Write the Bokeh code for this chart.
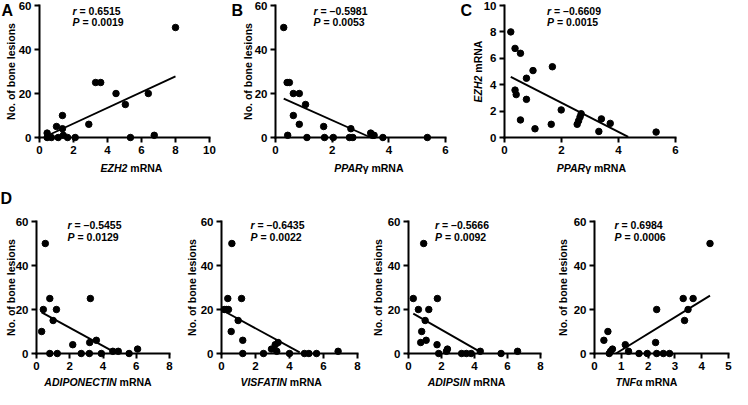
import math
from bokeh.plotting import figure
from bokeh.layouts import column, row
from bokeh.models import Range1d, FixedTicker, Label
from bokeh.embed import file_html
from bokeh.resources import INLINE

# ---------------- data ----------------
a_x = [0.45, 0.45, 0.7, 1.0, 1.1, 1.35, 1.35, 1.4, 1.65, 2.1, 2.9, 3.3, 3.6, 4.5, 5.05, 5.35, 6.4, 6.75, 8.0]
a_y = [2, 0, 0, 5, 0, 10, 4, 1, 0, 0, 6, 25, 25, 20, 15, 0, 20, 1, 50]
a_fit_x = [0.45, 8.0]
a_fit_y = [0.8, 27.8]

b_x = [0.29, 0.41, 0.49, 0.63, 0.84, 1.06, 0.63, 0.84, 0.43, 1.11, 1.7, 1.73, 2.04, 2.66, 2.61, 2.73, 3.36, 3.42, 3.48, 3.79, 5.36]
b_y = [50, 25, 25, 20, 20, 15, 10, 6, 1, 0, 5, 0, 0, 4, 0, 0, 2, 1, 1, 0, 0]
b_fit_x = [0.29, 3.36]
b_fit_y = [17.7, 0.0]

c_x = [0.22, 0.37, 0.56, 1.0, 1.68, 0.77, 0.37, 0.41, 0.77, 1.99, 0.56, 1.07, 1.64, 2.55, 2.6, 2.65, 2.69, 3.4, 3.71, 3.31, 5.32]
c_y = [8.0, 6.75, 6.38, 5.07, 5.36, 4.49, 3.59, 3.25, 2.89, 2.09, 1.33, 0.66, 1.0, 1.0, 1.26, 1.55, 1.8, 1.41, 1.07, 0.46, 0.41]
c_fit_x = [0.22, 4.34]
c_fit_y = [4.6, 0.05]

d1_x = [0.53, 0.8, 3.24, 0.41, 1.2, 1.0, 0.31, 3.6, 3.2, 2.18, 0.8, 1.25, 2.69, 3.18, 3.9, 4.59, 4.92, 5.57, 6.08]
d1_y = [50, 25, 25, 20, 20, 15, 10, 6, 5, 4, 0, 0, 0, 0, 0, 1, 1, 0, 2]
d1_fit_x = [0.31, 4.6]
d1_fit_y = [18.7, 1.0]

d2_x = [0.61, 0.37, 1.18, 0.16, 0.29, 0.41, 0.98, 0.57, 1.25, 2.94, 3.16, 3.33, 3.25, 1.25, 2.47, 4.0, 4.88, 5.14, 5.59, 6.86]
d2_y = [50, 25, 25, 20, 20, 20, 15, 10, 6, 2, 4, 5, 1, 0, 0, 0, 0, 0, 0, 1]
d2_fit_x = [0.0, 4.6]
d2_fit_y = [19.9, 0.5]

d3_x = [0.92, 0.29, 1.75, 0.6, 1.23, 1.01, 0.8, 0.74, 1.07, 1.73, 2.36, 2.3, 1.83, 3.22, 3.51, 3.8, 4.35, 5.61, 6.61]
d3_y = [50, 25, 25, 20, 20, 15, 10, 5, 6, 4, 2, 1, 0, 0, 0, 0, 1, 0, 1]
d3_fit_x = [0.29, 4.45]
d3_fit_y = [18.1, 0.3]

d4_x = [4.31, 3.31, 3.68, 2.32, 3.49, 3.36, 0.5, 0.35, 0.55, 0.6, 0.67, 1.15, 1.27, 1.66, 1.97, 2.32, 2.57, 2.8, 2.28]
d4_y = [50, 25, 25, 20, 20, 15, 10, 6, 0, 1, 2, 4, 1, 0, 0, 0, 0, 0, 5]
d4_fit_x = [0.8, 4.31]
d4_fit_y = [0.0, 26.3]

lesion_ticks = [0, 20, 40, 60]
ezh2_ticks = [0, 2, 4, 6, 8, 10]
ppar_ticks = [0, 2, 4, 6]
adipo_ticks = [0, 2, 4, 6, 8]
tnf_ticks = [0, 1, 2, 3, 4, 5]

# ---------------- styling helpers ----------------
FONT = "Liberation Sans"
TITLE_SIZE = 10.5
WIDTHS = {" ": 278, "A": 722, "C": 722, "D": 722, "E": 667, "F": 611, "H": 722, "I": 278,
          "N": 722, "O": 778, "P": 667, "R": 722, "S": 667, "T": 611, "V": 667, "Z": 611,
          "2": 556, "m": 889, "γ": 556, "α": 617}


def tw(s, size=TITLE_SIZE):
    return sum(WIDTHS.get(ch, 600) for ch in s) / 1000.0 * size


def make_panel(g, xb, yb, xticks, yticks, xs, ys, fx, fy, letter, letter_pos,
               stats, stat_x, stat_ys, xt_italic, xt_rest, xt_shift, xt_below,
               yt_italic, yt_rest, yt_left):
    # g: figure width, height, and the axis box (left, top, width, height) in pixels
    width, height, left, top, fw, fh = g
    ux = (xb[1] - xb[0]) / fw
    uy = (yb[1] - yb[0]) / fh
    xr = (xb[0] - left * ux, xb[1] + (width - left - fw) * ux)
    yr = (yb[0] - (height - top - fh) * uy, yb[1] + top * uy)
    p = figure(width=width, height=height, x_range=Range1d(*xr), y_range=Range1d(*yr),
               output_backend="svg", toolbar_location=None,
               min_border_left=0, min_border_right=0, min_border_top=0, min_border_bottom=0)
    p.outline_line_color = None
    p.grid.visible = False
    p.background_fill_color = "white"
    p.border_fill_color = "white"
    p.xaxis.ticker = FixedTicker(ticks=xticks)
    p.yaxis.ticker = FixedTicker(ticks=yticks)
    p.xaxis.fixed_location = yb[0]
    p.yaxis.fixed_location = xb[0]
    p.xaxis.bounds = xb
    p.yaxis.bounds = yb
    for ax in (p.xaxis[0], p.yaxis[0]):
        ax.axis_line_width = 2
        ax.axis_line_color = "black"
        ax.axis_line_cap = "square"
        ax.major_tick_line_width = 2
        ax.major_tick_line_color = "black"
        ax.major_tick_out = 5
        ax.major_tick_in = 0
        ax.minor_tick_line_color = None
        ax.major_label_text_font = FONT
        ax.major_label_text_font_style = "bold"
        ax.major_label_text_font_size = "11.5px"
        ax.major_label_text_color = "black"
        ax.major_label_standoff = 3

    def dx(px):
        return xb[0] + px * ux

    def dy(py):
        return yb[1] - py * uy

    p.scatter(xs, ys, size=6.5, marker="circle", fill_color="black", line_color="black")
    p.line(fx, fy, line_width=1.9, line_color="black")

    def lab(x, y, text, style="bold", size="10.5px", align="left", baseline="middle",
            x_offset=0, angle=0):
        p.add_layout(Label(x=x, y=y, text=text, text_font=FONT, text_font_style=style,
                           text_font_size=size, text_color="black", text_align=align,
                           text_baseline=baseline, x_offset=x_offset, angle=angle))

    if letter:
        lab(dx(letter_pos[0]), dy(letter_pos[1]), letter, size="16px", baseline="top")

    r_txt, p_txt = stats
    lab(dx(stat_x), dy(stat_ys[0]), "r", style="bold italic")
    lab(dx(stat_x), dy(stat_ys[0]), "= " + r_txt, x_offset=7)
    lab(dx(stat_x), dy(stat_ys[1]), "P", style="bold italic")
    lab(dx(stat_x), dy(stat_ys[1]), "= " + p_txt, x_offset=10)

    # x title: italic gene name followed by the bold rest
    w1 = tw(xt_italic)
    wt = w1 + tw(xt_rest)
    split = fw / 2 + xt_shift - wt / 2 + w1
    gap = tw(xt_rest) - tw(xt_rest.lstrip())
    lab(dx(split), dy(fh + xt_below), xt_italic, style="bold italic", align="right")
    lab(dx(split + gap), dy(fh + xt_below), xt_rest.lstrip(), align="left")

    # y title (rotated, reading upwards)
    if yt_italic:
        w1 = tw(yt_italic)
        wt = w1 + tw(yt_rest)
        gap = tw(yt_rest) - tw(yt_rest.lstrip())
        split_up = w1 - wt / 2
        lab(dx(-yt_left), dy(fh / 2 - split_up), yt_italic, style="bold italic",
            align="right", angle=math.pi / 2)
        lab(dx(-yt_left), dy(fh / 2 - split_up - gap), yt_rest.lstrip(), align="left",
            angle=math.pi / 2)
    else:
        lab(dx(-yt_left), dy(fh / 2), yt_rest, align="center", angle=math.pi / 2)
    return p


LES = "No. of bone lesions"
H1, T1, FH1 = 183, 5, 132
H2, T2, FH2 = 206, 38, 132

pA = make_panel((228, H1, 39, T1, 170, FH1), (0, 10), (0, 60), ezh2_ticks, lesion_ticks,
                a_x, a_y, a_fit_x, a_fit_y, "A", (-38, -4), ("0.6515", "0.0019"), 33, (5, 16.5),
                "EZH2", " mRNA", 7, 30, None, LES, 29)
pB = make_panel((227, H1, 47, T1, 170, FH1), (0, 6), (0, 60), ppar_ticks, lesion_ticks,
                b_x, b_y, b_fit_x, b_fit_y, "B", (-44, -4), ("\u20130.5981", "0.0053"), 38, (5, 16.5),
                "PPAR", "γ mRNA", 8, 30, None, LES, 28)
pC = make_panel((277, H1, 49, T1, 171, FH1), (0, 6), (0, 10), ppar_ticks, ezh2_ticks,
                c_x, c_y, c_fit_x, c_fit_y, "C", (-44, -4), ("\u20130.6609", "0.0015"), 42.5, (5, 16.5),
                "PPAR", "γ mRNA", 1, 30, "EZH2", " mRNA", 27)
pD1 = make_panel((185, H2, 36, T2, 133, FH2), (0, 8), (0, 60), adipo_ticks, lesion_ticks,
                 d1_x, d1_y, d1_fit_x, d1_fit_y, "D", (-36, -32), ("\u20130.5455", "0.0129"), 31, (3.3, 15),
                 "ADIPONECTIN", " mRNA", -5, 28.5, None, LES, 26)
pD2 = make_panel((187, H2, 36, T2, 136, FH2), (0, 8), (0, 60), adipo_ticks, lesion_ticks,
                 d2_x, d2_y, d2_fit_x, d2_fit_y, None, None, ("\u20130.6435", "0.0022"), 29, (3.3, 15),
                 "VISFATIN", " mRNA", -9, 28.5, None, LES, 30)
pD3 = make_panel((186, H2, 36, T2, 132, FH2), (0, 8), (0, 60), adipo_ticks, lesion_ticks,
                 d3_x, d3_y, d3_fit_x, d3_fit_y, None, None, ("\u20130.5666", "0.0092"), 26.5, (3.3, 15),
                 "ADIPSIN", " mRNA", -8, 28.5, None, LES, 31)
pD4 = make_panel((174, H2, 36, T2, 134, FH2), (0, 5), (0, 60), tnf_ticks, lesion_ticks,
                 d4_x, d4_y, d4_fit_x, d4_fit_y, None, None, ("0.6984", "0.0006"), 20, (3.3, 15),
                 "TNF", "α mRNA", -15, 28.5, None, LES, 32)

layout = column(row(pA, pB, pC, spacing=0), row(pD1, pD2, pD3, pD4, spacing=0), spacing=0)

open("out.html", "w").write(file_html(layout, INLINE))
